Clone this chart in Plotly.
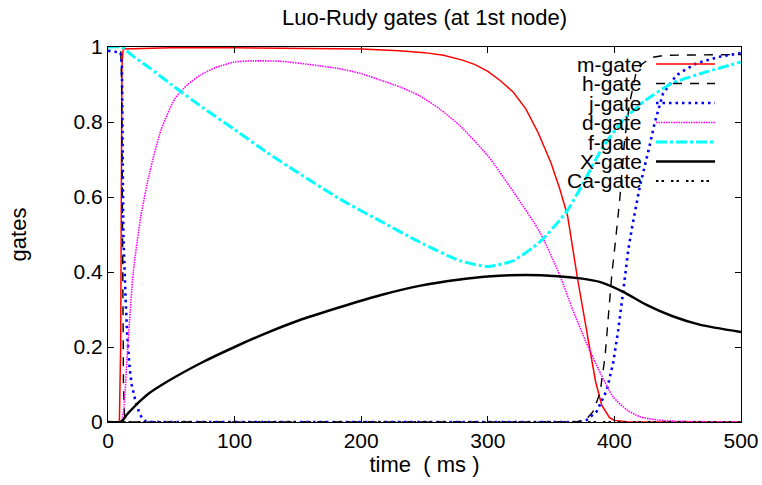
import plotly.graph_objects as go

# ---------------- data ----------------
m_t = [0, 9, 10, 10.5, 11, 12, 50, 100, 150, 200, 230, 250, 265, 280, 290, 300, 310, 320, 330, 340, 350, 357, 363, 371, 378, 385, 390, 396, 400, 410, 500]
m_v = [0, 0, 0.2, 0.7, 0.95, 0.995, 0.998, 0.998, 0.997, 0.995, 0.99, 0.985, 0.978, 0.965, 0.953, 0.935, 0.91, 0.88, 0.835, 0.77, 0.69, 0.62, 0.55, 0.38, 0.245, 0.11, 0.045, 0.012, 0.004, 0.001, 0]

h_t = [0, 10, 10.8, 11.5, 12.2, 13, 15, 370, 378, 383, 388.6, 392.6, 395, 397.8, 401.7, 404.4, 408, 412, 417, 422, 429, 440, 500]
h_v = [1, 1, 0.9, 0.5, 0.1, 0.02, 0, 0, 0.008, 0.027, 0.077, 0.174, 0.28, 0.387, 0.51, 0.6, 0.75, 0.85, 0.93, 0.955, 0.972, 0.978, 0.98]

j_t = [0, 10, 11, 11.6, 12.1, 14, 15.2, 17.1, 18.7, 21.9, 25.3, 29, 35, 372, 378, 386, 394, 399, 403, 407, 411, 414, 420, 427, 432, 438.5, 449, 465, 483, 500]
j_v = [0.99, 0.985, 0.95, 0.77, 0.5, 0.32, 0.23, 0.144, 0.1, 0.053, 0.019, 0.003, 0, 0, 0.005, 0.028, 0.085, 0.157, 0.245, 0.35, 0.46, 0.52, 0.627, 0.725, 0.8, 0.877, 0.925, 0.957, 0.974, 0.984]

d_t = [0, 10, 11, 12.6, 16, 20, 26, 33, 42, 53, 63, 73, 85, 100, 115, 136, 160, 183, 199, 215, 231, 246, 262, 278, 300, 320, 341, 357, 367, 378, 389, 399, 410, 420, 435, 450, 500]
d_v = [0, 0, 0.005, 0.04, 0.22, 0.4, 0.55, 0.667, 0.78, 0.863, 0.9, 0.925, 0.945, 0.96, 0.963, 0.962, 0.953, 0.942, 0.93, 0.912, 0.893, 0.87, 0.835, 0.79, 0.71, 0.615, 0.507, 0.39, 0.3, 0.21, 0.13, 0.067, 0.032, 0.014, 0.005, 0.002, 0]

f_t = [0, 10, 13, 20, 33, 50, 75, 100, 125, 150, 183, 215, 246, 278, 300, 320, 341, 362, 375, 391, 407, 425, 446, 473, 500]
f_v = [1, 1, 0.995, 0.975, 0.944, 0.9, 0.838, 0.78, 0.72, 0.665, 0.595, 0.536, 0.48, 0.43, 0.415, 0.43, 0.48, 0.56, 0.635, 0.734, 0.805, 0.859, 0.904, 0.934, 0.96]

x_t = [0, 10, 12, 15, 20, 25, 33, 43, 53, 75, 100, 125, 150, 183, 215, 246, 278, 300, 330, 355, 373, 389, 407, 425, 446, 468, 500]
x_v = [0, 0, 0.006, 0.02, 0.038, 0.055, 0.078, 0.1, 0.12, 0.16, 0.2, 0.237, 0.27, 0.306, 0.338, 0.363, 0.38, 0.388, 0.392, 0.389, 0.383, 0.373, 0.347, 0.313, 0.282, 0.259, 0.24]

ca_t = [0, 10, 20, 100, 200, 300, 400, 500]
ca_v = [0.0002, 0.0002, 0.0003, 0.0002, 0.0002, 0.0002, 0.0003, 0.0002]

names = ["m-gate", "h-gate", "j-gate", "d-gate", "f-gate", "X-gate", "Ca-gate"]
x_ticks = [0, 100, 200, 300, 400, 500]
y_ticks = [0, 0.2, 0.4, 0.6, 0.8, 1]
y_tick_text = ["0", "0.2", "0.4", "0.6", "0.8", "1"]

# ---------------- styles ----------------
styles = [
    dict(color="#ff0000", width=1.5, dash="solid", shape="linear"),
    dict(color="#000000", width=1.4, dash="9px,8px", shape="linear"),
    dict(color="#0000ff", width=2.6, dash="2.5px,4px", shape="linear"),
    dict(color="#ff00ff", width=1.6, dash="1.5px,1px", shape="spline"),
    dict(color="#00ffff", width=3, dash="11px,3px,3px,3px", shape="spline"),
    dict(color="#000000", width=2.5, dash="solid", shape="spline"),
    dict(color="#000000", width=2, dash="2.5px,3px,2.5px,7px", shape="linear"),
]
data = [(m_t, m_v), (h_t, h_v), (j_t, j_v), (d_t, d_v), (f_t, f_v), (x_t, x_v), (ca_t, ca_v)]

FONT = "Liberation Sans, Arial, sans-serif"
FS = 21
FS_TITLE = 22

fig = go.Figure()
for name, (t, v), st in zip(names, data, styles):
    line = dict(color=st["color"], width=st["width"], dash=st["dash"], shape=st["shape"])
    if st["shape"] == "spline":
        line["smoothing"] = 0.6
    fig.add_trace(go.Scatter(x=t, y=v, mode="lines", name=name, showlegend=False, line=line))

# gnuplot-style key: right-aligned text, sample line to the right
W, H = 762, 485
L, R, T, B = 108, 21, 47, 63
pw, ph = W - L - R, H - T - B
def px2x(px):
    return (px - L) / pw
def py2y(py):
    return (H - B - py) / ph

row0, step = 64, 19.5
for i, (name, st) in enumerate(zip(names, styles)):
    yy = py2y(row0 + i * step)
    fig.add_annotation(x=px2x(643), y=yy, xref="paper", yref="paper", text=name,
                       showarrow=False, xanchor="right", yanchor="middle", borderpad=0,
                       font=dict(family=FONT, size=FS, color="black"))
    fig.add_shape(type="line", xref="paper", yref="paper", x0=px2x(656), x1=px2x(715), y0=yy, y1=yy,
                  line=dict(color=st["color"], width=st["width"], dash=st["dash"]))

axis_common = dict(showgrid=False, zeroline=False, showline=True, linecolor="black", linewidth=1,
                   mirror="ticks", ticks="inside", ticklen=6, tickcolor="black", tickwidth=1,
                   automargin=False,
                   tickfont=dict(family=FONT, size=FS, color="black"))

fig.update_layout(
    template="none",
    width=W, height=H,
    margin=dict(l=L, r=R, t=T, b=B),
    paper_bgcolor="white", plot_bgcolor="white",
    title=dict(text="Luo-Rudy gates (at 1st node)", x=0.5, xref="paper", xanchor="center",
               y=1 - 17 / H, yref="container", yanchor="middle",
               font=dict(family=FONT, size=FS_TITLE, color="black")),
    xaxis=dict(range=[0, 500], tickvals=x_ticks, ticktext=[str(v) for v in x_ticks],
               title=dict(text="time \u00a0( ms )", standoff=4, font=dict(family=FONT, size=FS_TITLE, color="black")),
               **axis_common),
    yaxis=dict(range=[0, 1], tickvals=y_ticks, ticktext=y_tick_text,
               title=dict(text="gates", standoff=40, font=dict(family=FONT, size=FS_TITLE, color="black")),
               **axis_common),
    showlegend=False,
)

fig.write_html("out.html")
